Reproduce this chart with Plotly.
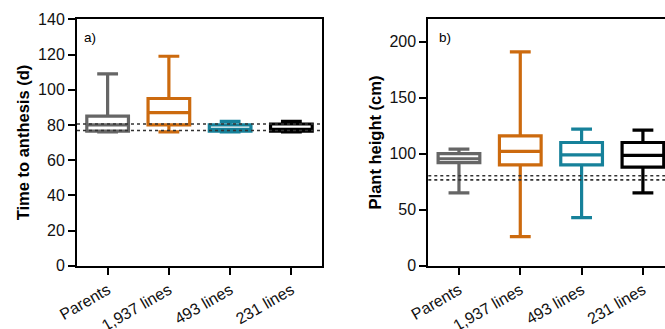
import plotly.graph_objects as go

# Categories and summary statistics (min, Q1, median, Q3, max)
categories = ["Parents", "1,937 lines", "493 lines", "231 lines"]
colors = ["#666666", "#CC6A0E", "#16819A", "#000000"]

anthesis_min = [76, 76, 76, 76]
anthesis_q1 = [76.5, 80, 76.5, 76.5]
anthesis_med = [80, 87, 77.5, 77.5]
anthesis_q3 = [85, 95, 80, 80.5]
anthesis_max = [109, 119, 82, 82]

height_min = [65, 26, 43, 65]
height_q1 = [92, 90, 90, 88]
height_med = [95.5, 102, 99, 98.5]
height_q3 = [100, 116, 110, 110]
height_max = [104, 191, 122, 121]

# Reference lines (parental range)
ref_lines_a = [80.5, 76.8]
ref_lines_b = [80.3, 76.6]

FONT = "Liberation Sans, Arial, sans-serif"

fig = go.Figure()


def add_boxes(xaxis, yaxis, mins, q1s, meds, q3s, maxs):
    for i, cat in enumerate(categories):
        fig.add_trace(go.Box(
            x=[cat], lowerfence=[mins[i]], q1=[q1s[i]], median=[meds[i]],
            q3=[q3s[i]], upperfence=[maxs[i]],
            xaxis=xaxis, yaxis=yaxis,
            line=dict(color=colors[i], width=3.2),
            fillcolor="white", width=0.68, whiskerwidth=0.5,
            boxpoints=False, showlegend=False, hoverinfo="skip",
        ))


add_boxes("x", "y", anthesis_min, anthesis_q1, anthesis_med, anthesis_q3, anthesis_max)
add_boxes("x2", "y2", height_min, height_q1, height_med, height_q3, height_max)

for val in ref_lines_a:
    fig.add_shape(type="line", xref="x domain", yref="y", x0=0, x1=1, y0=val, y1=val,
                  line=dict(color="#333333", width=1.6, dash="dot"), layer="above")
for val in ref_lines_b:
    fig.add_shape(type="line", xref="x2 domain", yref="y2", x0=0, x1=1, y0=val, y1=val,
                  line=dict(color="#333333", width=1.6, dash="dot"), layer="above")

W, H = 665, 329
ydom = [1 - 265.7 / H, 1 - 19.3 / H]

xaxis_common = dict(
    type="category", categoryorder="array", categoryarray=categories,
    showline=True, linecolor="black", linewidth=2, mirror=True,
    ticks="outside", ticklen=7, tickwidth=2, tickcolor="black",
    tickangle=-30, tickfont=dict(family=FONT, size=16, color="#111111"),
    showgrid=False, zeroline=False, automargin=False,
)
yaxis_common = dict(
    showline=True, linecolor="black", linewidth=2,
    ticks="outside", ticklen=7, tickwidth=2, tickcolor="black",
    tickfont=dict(family=FONT, size=16, color="#111111"),
    showgrid=False, zeroline=False, domain=ydom, automargin=False,
)

fig.update_layout(
    width=W, height=H,
    margin=dict(l=0, r=0, t=0, b=0),
    paper_bgcolor="white", plot_bgcolor="white",
    xaxis=dict(xaxis_common, domain=[77 / W, 322 / W], range=[-0.5, 3.5], anchor="y"),
    yaxis=dict(yaxis_common, range=[0, 140], dtick=20, mirror=True, anchor="x",
               title=dict(text="<b>Time to anthesis (d)</b>", standoff=4,
                          font=dict(family=FONT, size=16.5, color="black"))),
    xaxis2=dict(xaxis_common, domain=[428.3 / W, 1.0], range=[-0.5, 3.36], anchor="y2"),
    yaxis2=dict(yaxis_common, range=[0, 220], tickvals=[0, 50, 100, 150, 200], anchor="x2",
                title=dict(text="<b>Plant height (cm)</b>", standoff=4,
                           font=dict(family=FONT, size=16.5, color="black"))),
    annotations=[
        dict(text="a)", xref="x domain", yref="y domain", x=0.02, y=0.965,
             xanchor="left", yanchor="top", showarrow=False,
             font=dict(family=FONT, size=13.5, color="black")),
        dict(text="b)", xref="x2 domain", yref="y2 domain", x=0.035, y=0.965,
             xanchor="left", yanchor="top", showarrow=False,
             font=dict(family=FONT, size=13.5, color="black")),
    ],
)

fig.write_html("out.html")
